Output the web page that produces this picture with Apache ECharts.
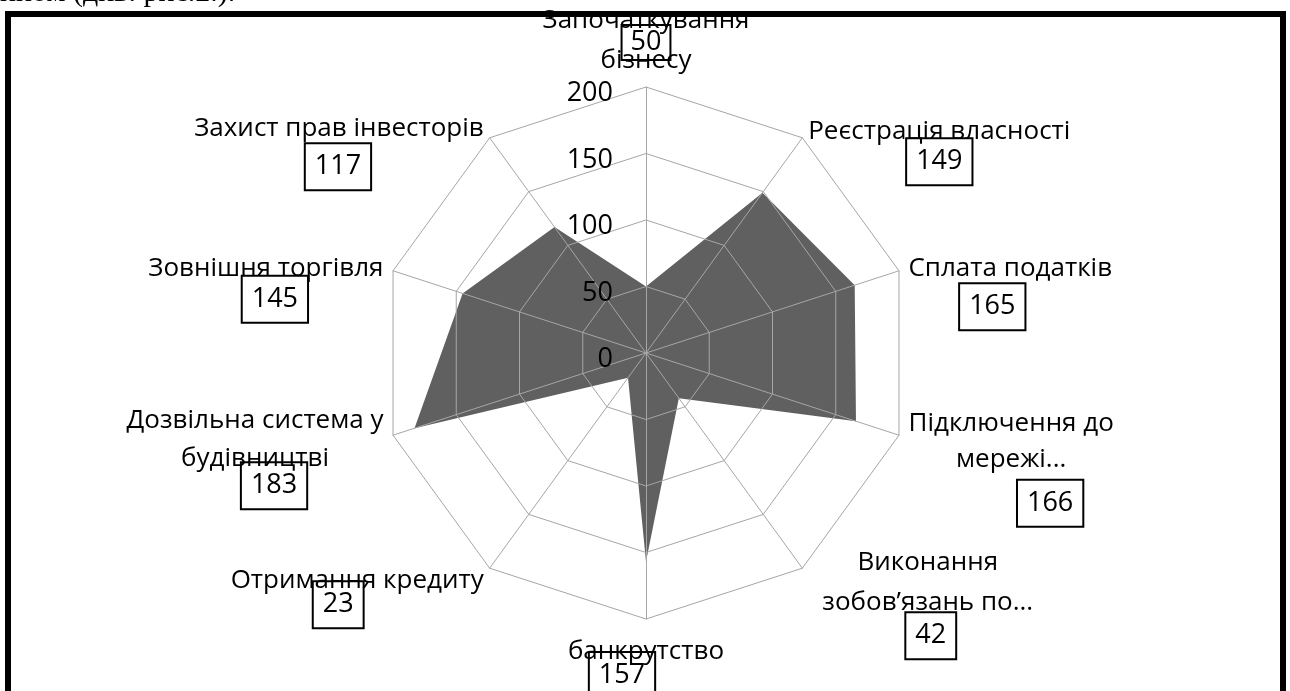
<!DOCTYPE html>
<html><head><meta charset="utf-8">
<script src="https://cdn.jsdelivr.net/npm/echarts@6/dist/echarts.min.js"></script>
<style>html,body{margin:0;padding:0;background:#fff;overflow:hidden}#c{width:1290px;height:691px}</style>
</head><body><div id="c"></div>
<script>
// ---- data (clockwise from the top) ----
const categories = ['Започаткування\nбізнесу', 'Реєстрація власності', 'Сплата податків', 'Підключення до\nмережі...', 'Виконання\nзобов’язань по...', 'банкрутство', 'Отримання кредиту', 'Дозвільна система у\nбудівництві', 'Зовнішня торгівля', 'Захист прав інвесторів'];
const values = [50, 149, 165, 166, 42, 157, 23, 183, 145, 117];
const axisMin = 0;
const axisMax = 200;
const tickInterval = 50;

// ---- label layout (style only) ----
const boxDx = [0, 0, -18, 39, 3, -24, -19, 19, 9, -1];
const lh1 = [8, 14, 30, 31, 61, 1, 1, 69, 15, 30];
const lh2 = [1, 0, 0, 41, 19, 0, 0, 7, 0, 0];
const topPad = [0, 50, 48, 58, 0, 22, 56, 19, 48, 44];
const botPad = [16, 0, 0, 0, 0, 0, 0, 0, 0, 0];
const extraGap = [0, 0, 0, 0, 24, 0, 0, 0, 0, 0];

const FONT = '"Open Sans"';
const rich = {
  v: { fontFamily: FONT, fontSize: 27, color: '#000', align: 'center', height: 27, lineHeight: 47, padding: [10, 10, 10, 10], borderColor: '#000', borderWidth: 2 },
  v0: { fontFamily: FONT, fontSize: 27, color: '#000', align: 'center', height: 27, lineHeight: 35, padding: [4, 9, 4, 9], borderColor: '#000', borderWidth: 2 }
};
categories.forEach((c, i) => {
  rich['a' + i] = { fontFamily: FONT, fontSize: 26, color: '#000', align: 'center', lineHeight: lh1[i] };
  rich['b' + i] = { fontFamily: FONT, fontSize: 26, color: '#000', align: 'center', lineHeight: lh2[i] || 1 };
  rich['s' + i] = { width: Math.abs(boxDx[i]) * 2 || 1, align: 'center', fontSize: 10, lineHeight: 10 };
  rich['t' + i] = { width: 1, align: 'center', fontSize: 10, lineHeight: topPad[i] || 1 };
  rich['u' + i] = { width: 1, align: 'center', fontSize: 10, lineHeight: botPad[i] || 1 };
});

function fmt(name) {
  const i = categories.indexOf(name);
  const lines = name.split('\n');
  const boxStyle = i === 0 ? 'v0' : 'v';
  const box = boxDx[i] === 0 ? `{${boxStyle}|${values[i]}}`
    : boxDx[i] > 0 ? `{s${i}| }{${boxStyle}|${values[i]}}` : `{${boxStyle}|${values[i]}}{s${i}| }`;
  const out = [];
  if (topPad[i]) out.push(`{t${i}| }`);
  if (i === 0) {
    out.push(`{a${i}|${lines[0]}}`, box, `{b${i}|${lines[1]}}`);
  } else {
    out.push(`{a${i}|${lines[0]}}`);
    if (lines[1]) out.push(`{b${i}|${lines[1]}}`);
    out.push(box);
  }
  if (botPad[i]) out.push(`{u${i}| }`);
  return out.join('\n');
}

// ECharts lays indicators counter-clockwise; reverse all but the first to go clockwise
const order = [0].concat(categories.map((c, i) => i).slice(1).reverse());

const chart = echarts.init(document.getElementById('c'), null, { renderer: 'canvas' });
chart.setOption({
  backgroundColor: '#fff',
  animation: false,
  graphic: [
    { type: 'text', left: 0, top: -22, z: 10, style: { text: 'нном (див. рис.2.).', font: '30px "Liberation Serif"', fill: '#000' } },
    { type: 'rect', shape: { x: 8, y: 14, width: 1275, height: 720 }, style: { fill: 'none', stroke: '#000', lineWidth: 6 }, z: 10 }
  ],
  radar: {
    center: [646, 353],
    radius: 266,
    startAngle: 90,
    shape: 'polygon',
    splitNumber: (axisMax - axisMin) / tickInterval,
    z: 3,
    indicator: order.map(i => Object.assign({ name: categories[i], min: axisMin, max: axisMax, nameGap: 10 + extraGap[i] },
      i === 0 ? { axisLabel: { show: true } } : {})),
    axisName: { formatter: fmt, rich: rich, color: '#000', fontFamily: FONT, fontSize: 26 },
    nameGap: 10,
    axisLine: { lineStyle: { color: '#a6a6a6', width: 1 } },
    splitLine: { lineStyle: { color: '#a6a6a6', width: 1 } },
    splitArea: { show: false },
    axisTick: { show: false },
    axisLabel: { show: false, color: '#000', fontFamily: FONT, fontSize: 27, margin: 33, verticalAlign: 'top', lineHeight: 13 }
  },
  series: [{
    type: 'radar',
    z: 2,
    symbol: 'none',
    lineStyle: { width: 0, color: '#606060' },
    areaStyle: { color: '#606060', opacity: 1 },
    data: [{ value: order.map(i => values[i]) }]
  }]
});
</script></body></html>
